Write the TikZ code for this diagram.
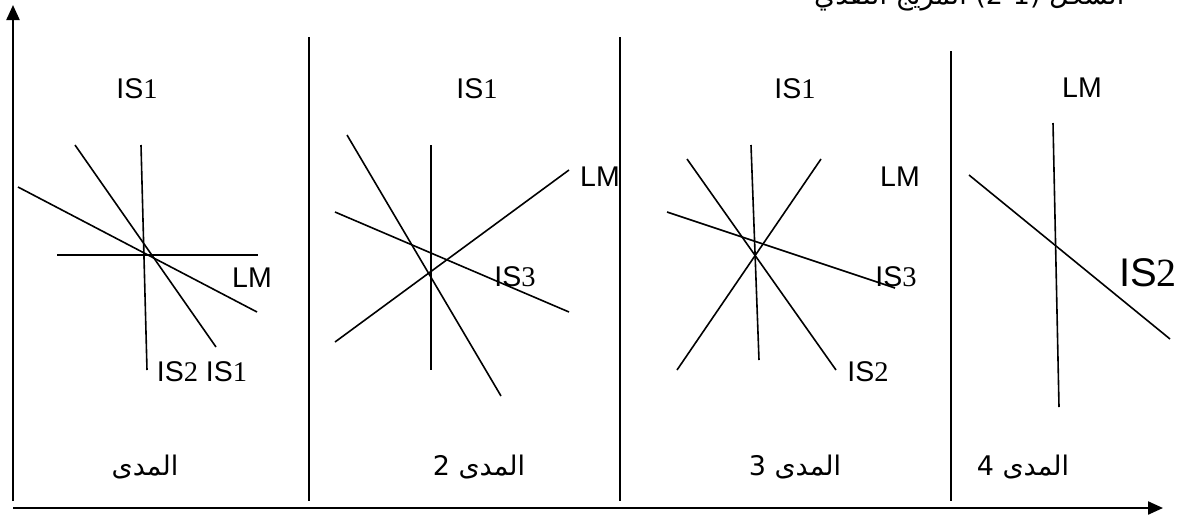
\documentclass[tikz,border=0pt]{standalone}
\usepackage{fontspec}
\setmainfont{Liberation Sans}
\newfontfamily\serifdig{Liberation Serif}
\newfontfamily\arabicfont[Script=Arabic]{DejaVu Sans}
\TeXXeTstate=1
\usetikzlibrary{arrows.meta}

\tikzset{
  axis/.style={line width=2.2pt, -{Triangle[length=15pt,width=13pt]}},
  divider/.style={line width=1.6pt},
  curve/.style={line width=1.6pt},
  lbl/.style={inner sep=0pt, font=\fontsize{28.5}{32}\selectfont},
  biglbl/.style={inner sep=0pt, font=\fontsize{40}{46}\selectfont},
  rangelbl/.style={inner sep=0pt, font=\arabicfont\fontsize{27}{31}\selectfont}
}
\newcommand{\isl}[1]{IS{\serifdig #1}}

\begin{document}
\begin{tikzpicture}[x=1pt, y=-1pt]
  \useasboundingbox (0,0) rectangle (1182,515);
  \clip (0,0) rectangle (1182,515);

  % title, cut by the page edge as in the source
  \node[rangelbl, anchor=base west] (title) at (814,4) {\beginR الشكل (2-1) المزيج النقدي\endR};

  \draw[axis] (13,501) -- (13,5);
  \draw[axis] (13,508) -- (1163,508);

  \draw[divider] (309,37) -- (309,501);
  \draw[divider] (620,37) -- (620,501);
  \draw[divider] (951,51) -- (951,501);

  % range 1
  \draw[curve] (18,187) -- (257,312);
  \draw[curve] (75,145) -- (216,347);
  \draw[curve] (141,145) -- (147,370);
  \draw[curve] (57,255) -- (258,255);
  \node[lbl] (isA) at (137,89) {\isl{1}};
  \node[lbl] (lmA) at (252,278) {LM};
  \node[lbl] (isB) at (202,372) {\isl{2} \isl{1}};
  \node[rangelbl] (r1) at (145,467) {\beginR المدى\endR};

  % range 2
  \draw[curve] (347,135) -- (501,396);
  \draw[curve] (431,145) -- (431,370);
  \draw[curve] (335,212) -- (569,312);
  \draw[curve] (335,342) -- (569,170);
  \node[lbl] (isC) at (477,89) {\isl{1}};
  \node[lbl] (lmC) at (600,177) {LM};
  \node[lbl] (isD) at (515,277) {\isl{3}};
  \node[rangelbl] (r2) at (479,467) {\beginR المدى 2\endR};

  % range 3
  \draw[curve] (751,145) -- (759,360);
  \draw[curve] (687,159) -- (836,370);
  \draw[curve] (677,370) -- (821,159);
  \draw[curve] (667,212) -- (895,288);
  \node[lbl] (isE) at (795,89) {\isl{1}};
  \node[lbl] (lmE) at (900,177) {LM};
  \node[lbl] (isF) at (896,277) {\isl{3}};
  \node[lbl] (isG) at (868,372) {\isl{2}};
  \node[rangelbl] (r3) at (795,467) {\beginR المدى 3\endR};

  % range 4
  \draw[curve] (1053,123) -- (1059,407);
  \draw[curve] (969,175) -- (1170,339);
  \node[lbl] (lmH) at (1082,88) {LM};
  \node[biglbl] (isH) at (1148,273) {\isl{2}};
  \node[rangelbl] (r4) at (1023,467) {\beginR المدى 4\endR};
\end{tikzpicture}
\end{document}
